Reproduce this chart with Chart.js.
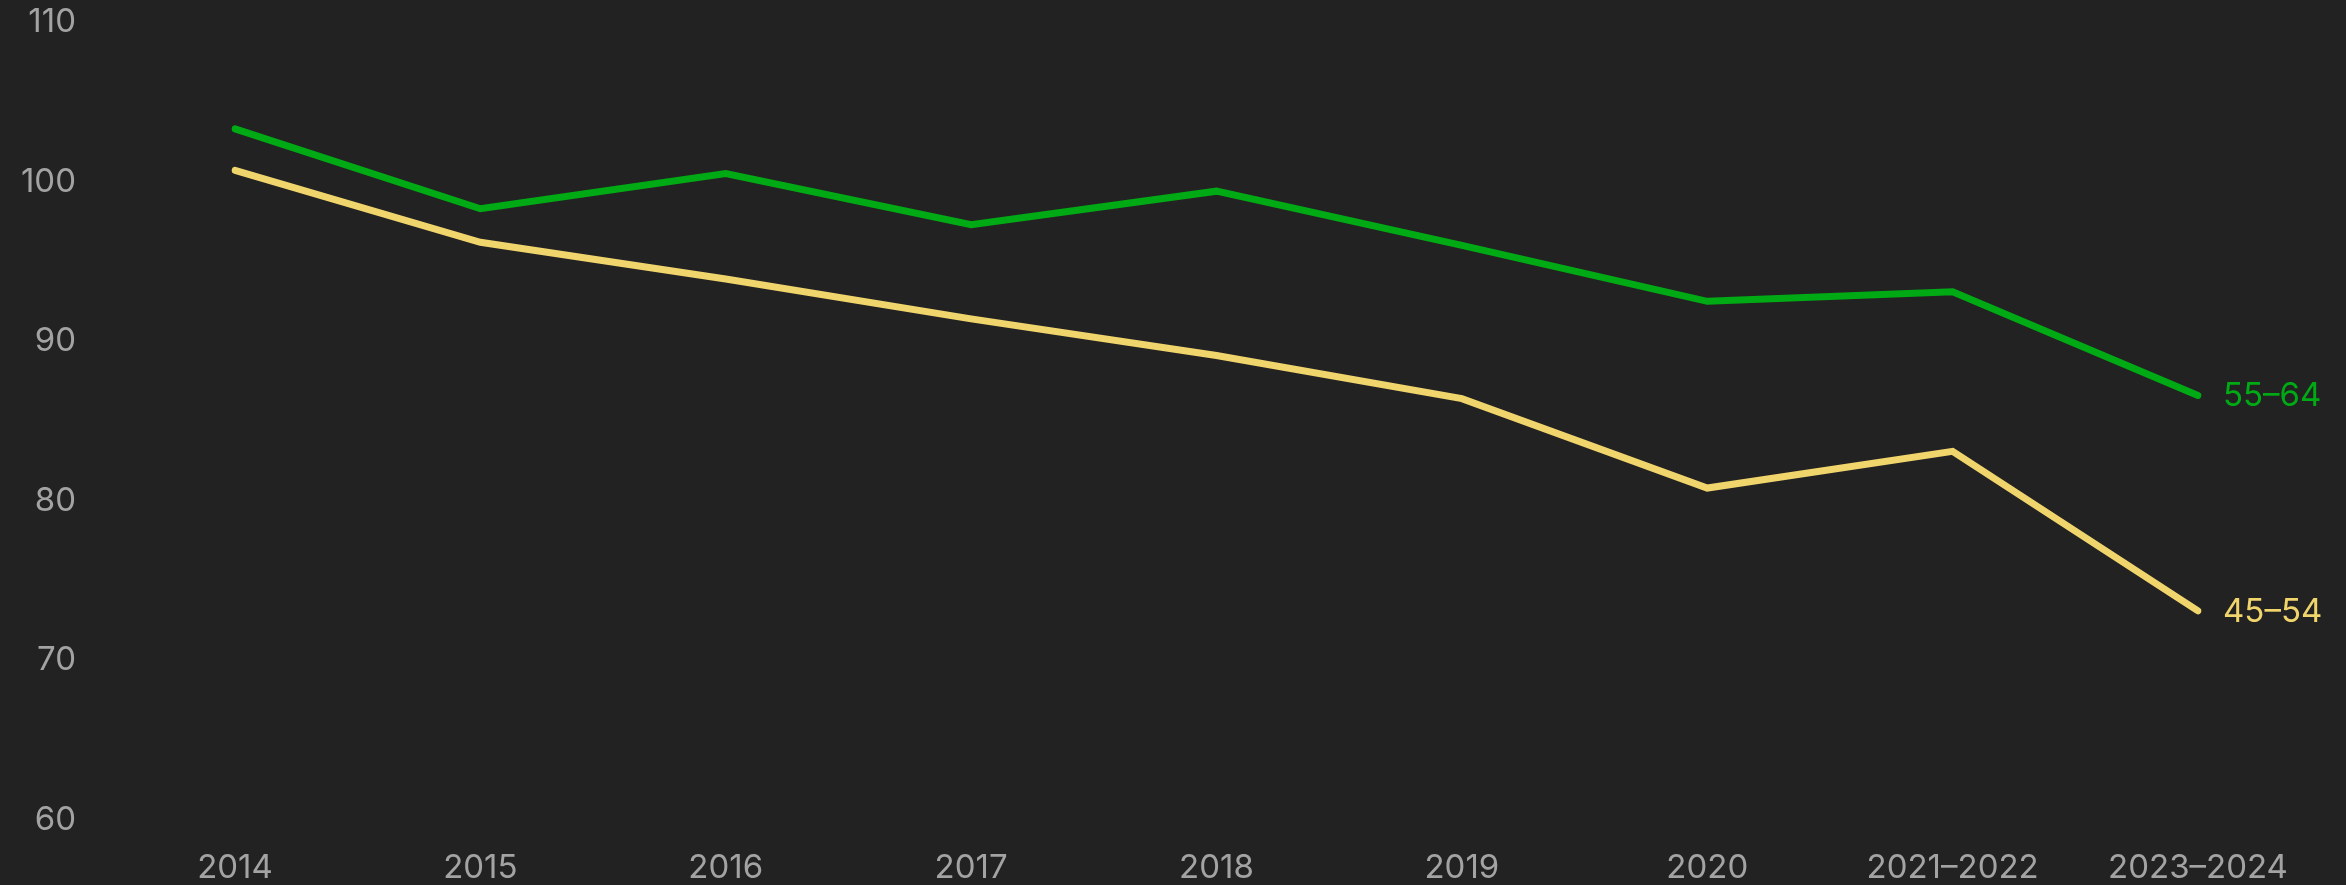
<!DOCTYPE html>
<html>
<head>
<meta charset="utf-8">
<script src="https://cdn.jsdelivr.net/npm/chart.js@4"></script>
<style>
  html, body { margin: 0; padding: 0; background: #222222; }
  #wrap { width: 2346px; height: 885px; }
</style>
</head>
<body>
<div id="wrap"><canvas id="lineGraph" width="2346" height="885"></canvas></div>
<script>
// 카테고리 & 시리즈
const years = ['2014', '2015', '2016', '2017', '2018', '2019', '2020', '2021–2022', '2023–2024'];
const age5564 = [103.3, 98.3, 100.5, 97.3, 99.4, 96.0, 92.5, 93.1, 86.6];
const age4554 = [100.7, 96.2, 93.9, 91.4, 89.1, 86.4, 80.8, 83.1, 73.1];
const seriesNames = ['55–64', '45–54'];
const seriesColors = ['#00aa14', '#f0d46c'];
const yTicks = [60, 70, 80, 90, 100, 110];

(function () {
  const ctx = document.getElementById('lineGraph');
  const tickColor = '#a3a3a3';
  const font = { family: 'Inter, "Noto Sans", sans-serif', size: 33 };

  const datasets = [age5564, age4554].map((data, i) => ({
    label: seriesNames[i],
    data: data,
    borderColor: seriesColors[i],
    borderWidth: 7,
    borderCapStyle: 'round',
    borderJoinStyle: 'miter',
    pointRadius: 0,
    fill: false,
    tension: 0,
  }));

  new Chart(ctx, {
    type: 'line',
    data: { labels: years, datasets: datasets },
    options: {
      responsive: false,
      animation: false,
      devicePixelRatio: 1,
      layout: { padding: { top: 22, right: 148, bottom: 0, left: 0 } },
      plugins: {
        legend: { display: false },
        tooltip: { enabled: false },
        endLabels: { offset: 25 },
      },
      scales: {
        x: {
          offset: false,
          grid: { display: false, drawTicks: false },
          border: { display: false },
          ticks: { color: tickColor, font: font, padding: 28, maxRotation: 0, autoSkip: false },
          afterFit(scale) { scale.height = 65; },
        },
        y: {
          min: yTicks[0],
          max: yTicks[yTicks.length - 1],
          grid: { display: false, drawTicks: false },
          border: { display: false },
          afterBuildTicks(scale) { scale.ticks = yTicks.map(v => ({ value: v })); },
          ticks: { color: tickColor, font: font, padding: 159 },
          afterFit(scale) {
            // 라벨 간격(padding)이 위아래 여백으로 들어가지 않게
            scale.width = 235;
            scale.paddingTop = 0;
            scale.paddingBottom = 0;
          },
        },
      },
    },
    plugins: [
      {
        // 라인 끝에 시리즈 이름
        id: 'endLabels',
        afterDatasetsDraw(chart, args, opts) {
          const c = chart.ctx;
          c.save();
          c.font = '33px Inter, "Noto Sans", sans-serif';
          c.textBaseline = 'middle';
          c.textAlign = 'left';
          chart.data.datasets.forEach((ds, i) => {
            const pts = chart.getDatasetMeta(i).data;
            const last = pts[pts.length - 1];
            c.fillStyle = ds.borderColor;
            c.fillText(ds.label, last.x + opts.offset, last.y + 1);
          });
          c.restore();
        },
      },
    ],
  });
})();
</script>
</body>
</html>
